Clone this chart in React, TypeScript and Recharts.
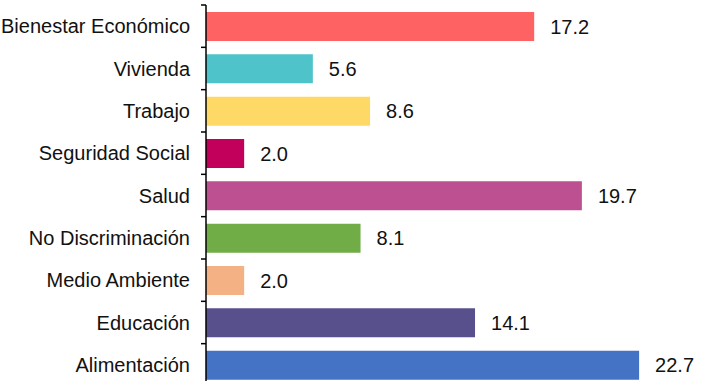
import { BarChart, Bar, XAxis, YAxis, Cell, LabelList } from "recharts";

const categories = [
  "Bienestar Económico",
  "Vivienda",
  "Trabajo",
  "Seguridad Social",
  "Salud",
  "No Discriminación",
  "Medio Ambiente",
  "Educación",
  "Alimentación",
];
const values = [17.2, 5.6, 8.6, 2.0, 19.7, 8.1, 2.0, 14.1, 22.7];
const colors = [
  "#FF6262",
  "#4FC3CA",
  "#FFD966",
  "#C2005C",
  "#BD5090",
  "#70AD47",
  "#F4B183",
  "#58508D",
  "#4472C4",
];

const CHART_W = 707;
const CHART_H = 395;
const MARGIN = { top: 5, right: 24, bottom: 9, left: 0 };
const BAND = (CHART_H - MARGIN.top - MARGIN.bottom) / categories.length;
const FONT = "'Liberation Sans', Arial, sans-serif";

const chartData = categories.map((name, i) => ({ name, value: values[i] }));

function CategoryTick(props: any) {
  const { x, y, payload } = props;
  const top = y - BAND / 2;
  return (
    <g>
      <line x1={x - 5} x2={x} y1={top} y2={top} stroke="#000" strokeWidth={1.5} />
      <text
        x={x - 16}
        y={y}
        dy="0.355em"
        textAnchor="end"
        fontSize={20}
        fontFamily={FONT}
        fill="#111"
      >
        {payload.value}
      </text>
    </g>
  );
}

export default function App() {
  return (
    <div style={{ position: "absolute", left: 0, top: 0, width: CHART_W, height: 381, overflow: "hidden", background: "#fff" }}>
      <BarChart
        width={CHART_W}
        height={CHART_H}
        data={chartData}
        layout="vertical"
        margin={MARGIN}
        barCategoryGap={0}
      >
        <XAxis type="number" domain={[0, 25]} hide />
        <YAxis
          type="category"
          dataKey="name"
          width={206}
          axisLine={{ stroke: "#000", strokeWidth: 1.5 }}
          tickLine={false}
          tickSize={0}
          tickMargin={0}
          tick={<CategoryTick />}
          interval={0}
        />
        <Bar dataKey="value" barSize={29} isAnimationActive={false}>
          {chartData.map((d, i) => (
            <Cell key={d.name} fill={colors[i]} />
          ))}
          <LabelList
            dataKey="value"
            position="right"
            offset={16}
            formatter={(v: any) => Number(v).toFixed(1)}
            style={{ fontSize: 20, fontFamily: FONT, fill: "#111" }}
          />
        </Bar>
      </BarChart>
    </div>
  );
}
